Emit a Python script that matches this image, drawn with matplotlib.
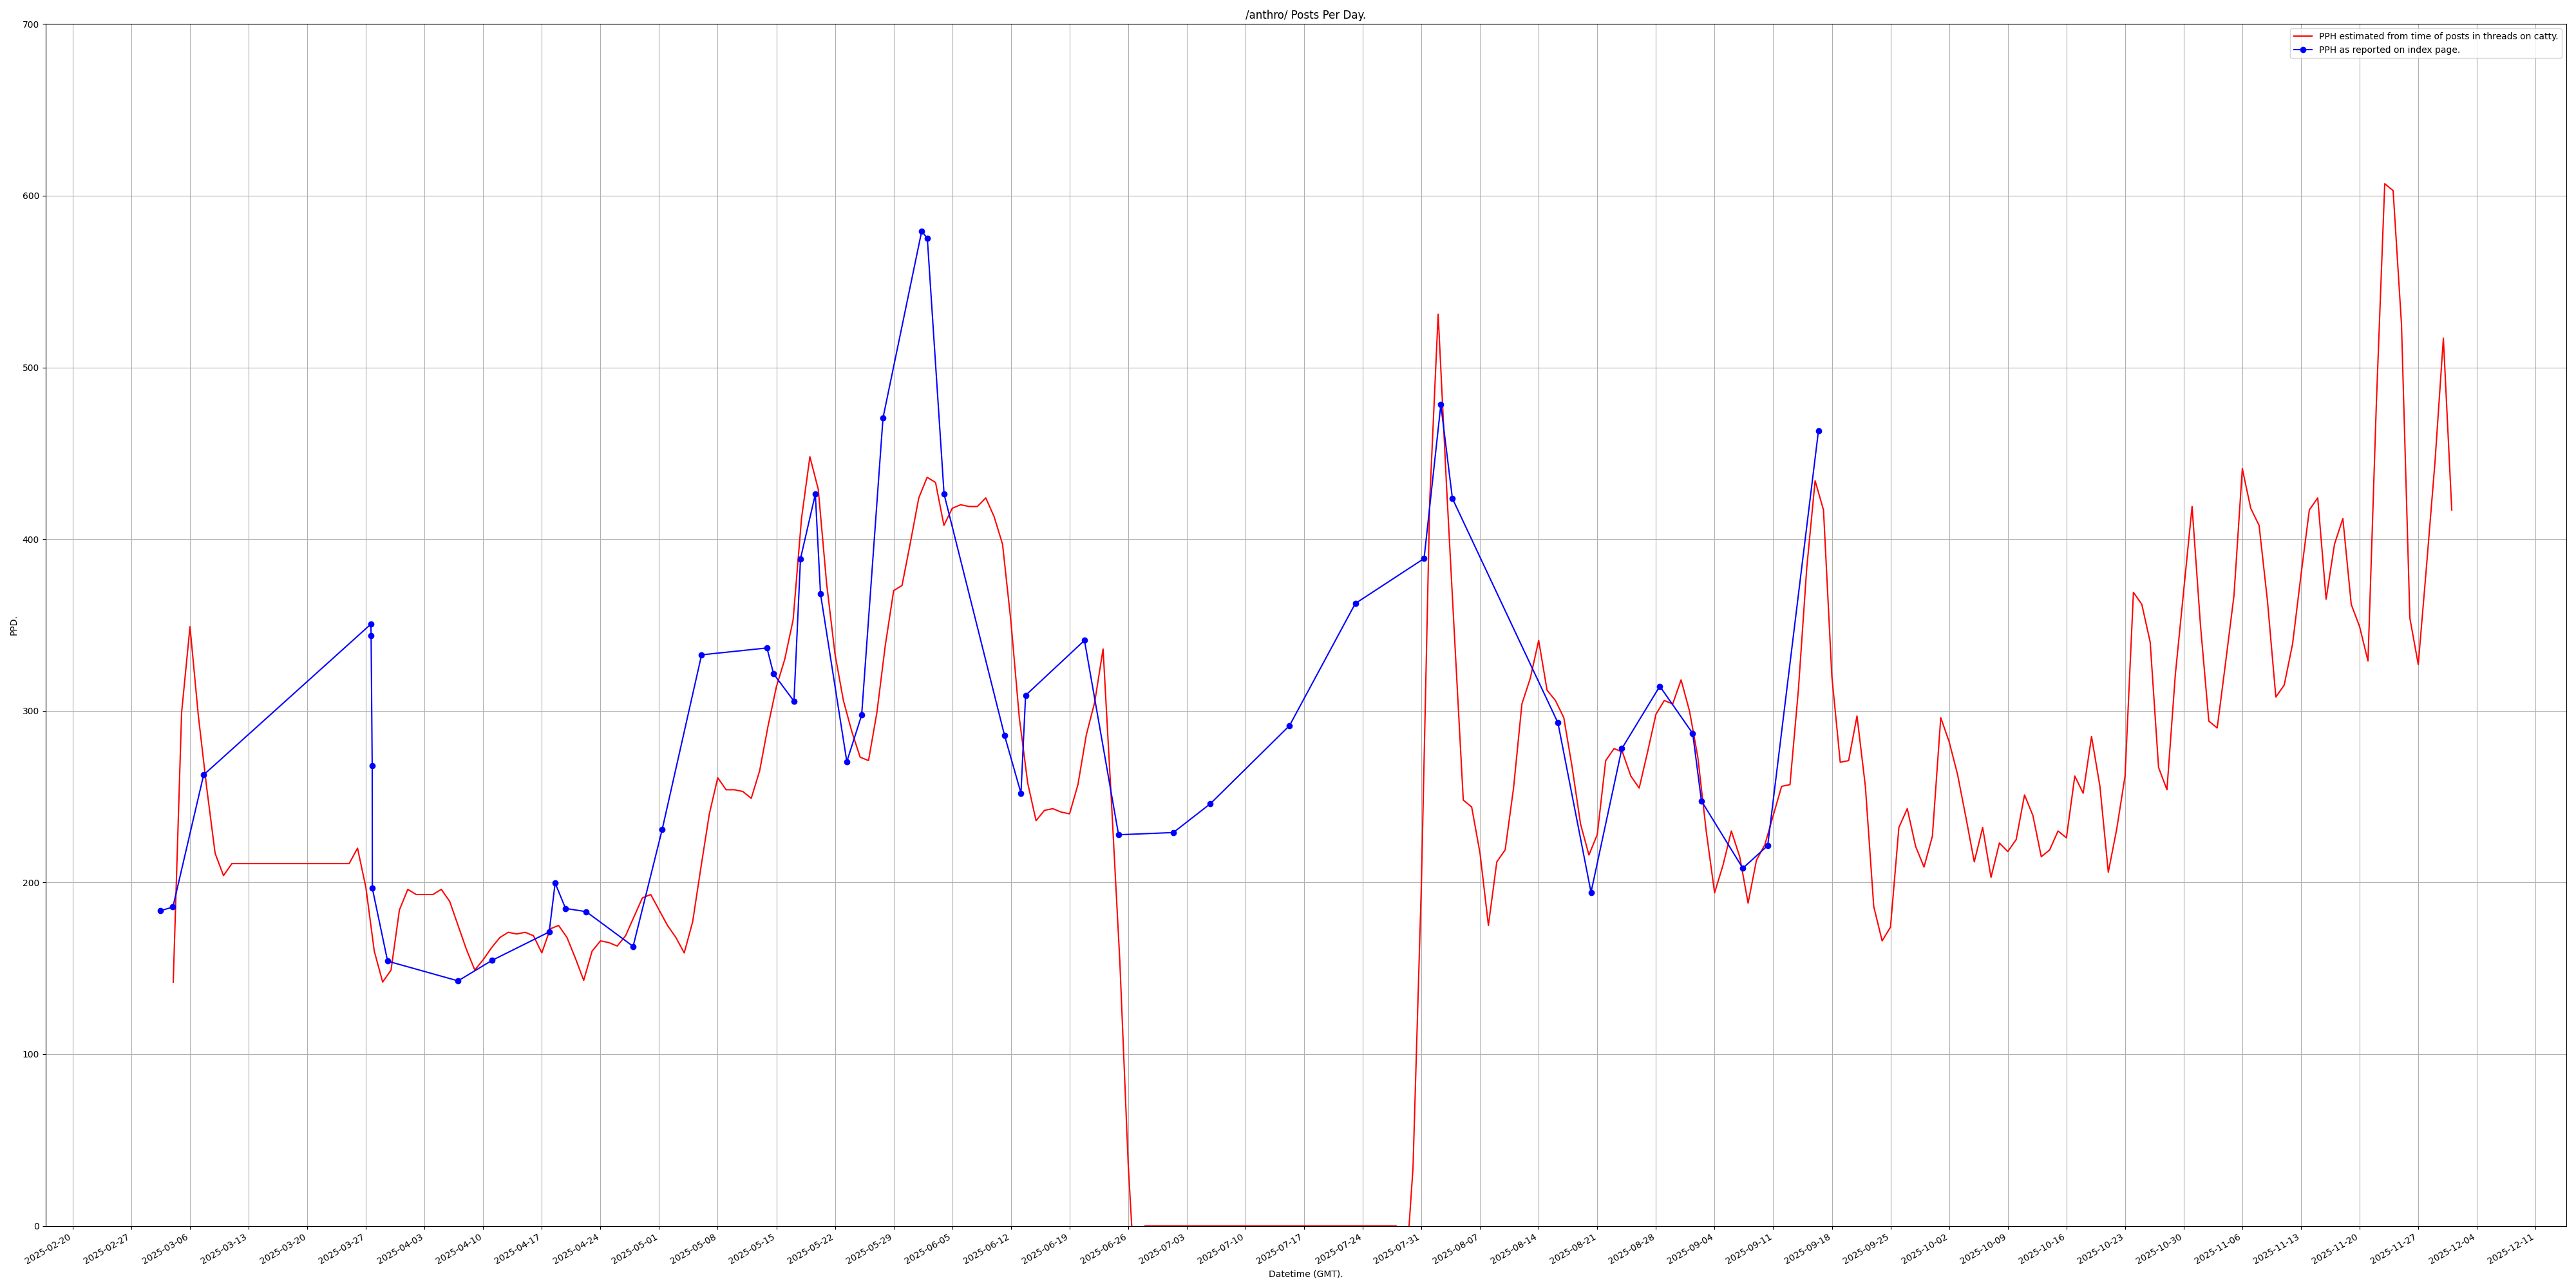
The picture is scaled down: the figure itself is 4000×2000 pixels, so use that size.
import matplotlib
matplotlib.use("Agg")
import matplotlib.pyplot as plt
import matplotlib.dates as mdates
import pandas as pd


# PPD estimated from catty threads, one value per day starting 2025-03-04
red_start = "2025-03-04"
red_ppd = [
    142, 299, 349, 297, 255, 217, 204, 211, 211, 211,
    211, 211, 211, 211, 211, 211, 211, 211, 211, 211,
    211, 211, 220, 197, 160, 142, 149, 184, 196, 193,
    193, 193, 196, 189, 175, 161, 149, 155, 162, 168,
    171, 170, 171, 169, 159, 173, 175, 168, 156, 143,
    160, 166, 165, 163, 169, 180, 191, 193, 184, 175,
    168, 159, 177, 209, 240, 261, 254, 254, 253, 249,
    265, 291, 314, 330, 353, 412, 448, 429, 374, 333,
    306, 288, 273, 271, 299, 338, 370, 373, 398, 424,
    436, 433, 408, 418, 420, 419, 419, 424, 413, 397,
    352, 296, 258, 236, 242, 243, 241, 240, 257, 286,
    305, 336, 247, 154, 36, -50, 0, 0, 0, 0,
    0, 0, 0, 0, 0, 0, 0, 0, 0, 0,
    0, 0, 0, 0, 0, 0, 0, 0, 0, 0,
    0, 0, 0, 0, 0, 0, 0, -38, 34, 199,
    423, 531, 431, 339, 248, 244, 217, 175, 212, 219,
    255, 304, 319, 341, 312, 306, 296, 267, 234, 216,
    228, 271, 278, 276, 262, 255, 276, 298, 306, 304,
    318, 300, 273, 230, 194, 210, 230, 215, 188, 213,
    222, 239, 256, 257, 312, 383, 434, 417, 320, 270,
    271, 297, 256, 186, 166, 174, 232, 243, 221, 209,
    227, 296, 282, 263, 238, 212, 232, 203, 223, 218,
    225, 251, 239, 215, 219, 230, 226, 262, 252, 285,
    256, 206, 231, 262, 369, 362, 340, 267, 254, 321,
    370, 419, 350, 294, 290, 328, 367, 441, 418, 408,
    364, 308, 315, 339, 379, 417, 424, 365, 397, 412,
    362, 349, 329, 479, 607, 603, 525, 354, 327, 385,
    445, 517, 417,
]

# PPD as reported on the index page
blue_times = [
    "2025-03-02 10:19", "2025-03-03 23:02", "2025-03-07 15:07",
    "2025-03-27 14:24", "2025-03-27 14:53", "2025-03-27 18:00",
    "2025-03-27 18:29", "2025-03-29 14:10", "2025-04-07 00:00",
    "2025-04-11 00:58", "2025-04-17 21:07", "2025-04-18 14:10",
    "2025-04-19 19:55", "2025-04-22 07:12", "2025-04-27 21:36",
    "2025-05-01 08:38", "2025-05-06 01:41", "2025-05-13 21:07",
    "2025-05-14 15:50", "2025-05-17 02:24", "2025-05-17 21:07",
    "2025-05-19 15:36", "2025-05-20 06:29", "2025-05-23 09:50",
    "2025-05-25 04:19", "2025-05-27 17:31", "2025-06-01 08:24",
    "2025-06-02 00:29", "2025-06-04 00:29", "2025-06-11 05:46",
    "2025-06-13 04:48", "2025-06-13 18:00", "2025-06-20 18:43",
    "2025-06-24 20:24", "2025-07-01 09:22", "2025-07-05 19:26",
    "2025-07-15 06:14", "2025-07-23 02:38", "2025-07-31 07:41",
    "2025-08-02 07:41", "2025-08-03 16:48", "2025-08-16 07:12",
    "2025-08-20 06:00", "2025-08-23 22:19", "2025-08-28 11:02",
    "2025-09-01 09:22", "2025-09-02 10:19", "2025-09-07 08:53",
    "2025-09-10 08:10", "2025-09-16 09:36",
]
blue_ppd = [
    183.5, 185.7, 262.7,
    350.5, 343.7, 268.1,
    196.6, 154.2, 142.7,
    154.6, 171.2, 199.7,
    184.9, 183.0, 162.8,
    230.7, 332.6, 336.6,
    321.6, 305.6, 388.6,
    426.2, 368.1, 270.4,
    297.5, 470.6, 579.4,
    575.2, 426.2, 285.6,
    252.0, 309.0, 341.0,
    227.8, 229.1, 245.9,
    291.4, 362.5, 388.7,
    478.3, 423.7, 293.0,
    194.3, 278.0, 314.3,
    286.8, 247.5, 208.3,
    221.5, 463.1,
]

red_dates = pd.date_range(red_start, periods=len(red_ppd), freq="D")
blue_dates = pd.to_datetime(blue_times)

fig, ax = plt.subplots(figsize=(40, 20), dpi=100)

ax.plot(red_dates, red_ppd, "r-",
        label="PPH estimated from time of posts in threads on catty.")
ax.plot(blue_dates, blue_ppd, "b-o",
        label="PPH as reported on index page.")

ax.set_ylim(0, 700)
ax.xaxis.set_major_locator(mdates.WeekdayLocator(byweekday=mdates.TH))
ax.xaxis.set_major_formatter(mdates.DateFormatter("%Y-%m-%d"))

ax.set_title("/anthro/ Posts Per Day.")
ax.set_xlabel("Datetime (GMT).")
ax.set_ylabel("PPD.")
ax.grid(True)
ax.legend(loc="upper right")

fig.autofmt_xdate()
plt.tight_layout()
plt.savefig("out.png")
